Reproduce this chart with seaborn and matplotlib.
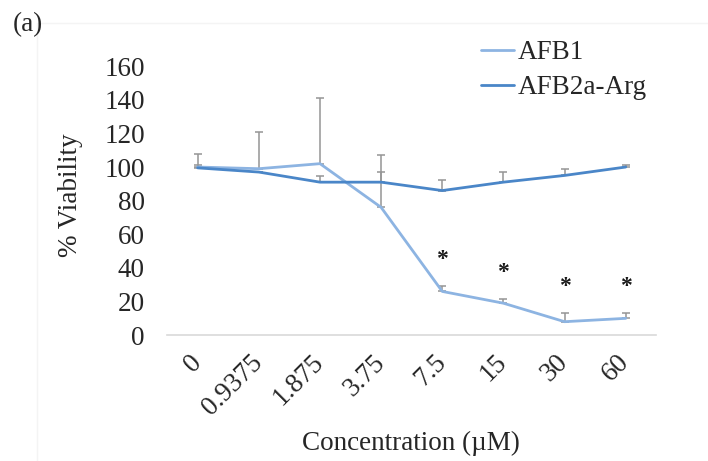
import numpy as np
import pandas as pd
import matplotlib
matplotlib.use("Agg")
import matplotlib.pyplot as plt
from matplotlib.patches import Rectangle
import seaborn as sns

# Concentrations (µM) and mean viability (%) with upper error (SD)
concentrations = ["0", "0.9375", "1.875", "3.75", "7.5", "15", "30", "60"]
afb1_mean = [100, 99, 102, 76, 26, 19, 8, 10]
afb1_err = [8, 22, 39, 31, 3, 2.5, 5, 3]
afb2a_mean = [99.5, 97, 91, 91, 86, 91, 95, 100]
afb2a_err = [1.5, 0, 3.5, 6, 6, 6, 4, 1]
# indices of concentrations marked as significant for AFB1
significant = [4, 5, 6, 7]

series_names = ["AFB1", "AFB2a-Arg"]
colors = {"AFB1": "#8DB4E2", "AFB2a-Arg": "#4A86C8"}

pos = np.arange(len(concentrations))
df = pd.DataFrame({
    "pos": np.concatenate([pos, pos]),
    "viability": afb1_mean + afb2a_mean,
    "series": ["AFB1"] * len(pos) + ["AFB2a-Arg"] * len(pos),
})

sns.set_theme(style="white")
plt.rcParams["font.family"] = ["Liberation Serif", "DejaVu Serif"]

FS = 19.5
fig = plt.figure(figsize=(7.08, 4.61), dpi=100)
ax = fig.add_axes([0.236, 0.273, 0.691, 0.5835])

# faint outer chart-area border
fig.patches.append(Rectangle((37 / 708, -0.1), 1.2, 1 - 23 / 461 + 0.1,
                             transform=fig.transFigure, fill=False,
                             edgecolor="#f4f4f4", linewidth=1, zorder=0))

# upper-only error bars, drawn under the lines
for mean, err in [(afb1_mean, afb1_err), (afb2a_mean, afb2a_err)]:
    ax.errorbar(pos, mean, yerr=[np.zeros(len(err)), err], fmt="none",
                ecolor="#959595", elinewidth=1.1, capsize=3, capthick=1.1,
                zorder=1.5)

sns.lineplot(data=df, x="pos", y="viability", hue="series",
             hue_order=series_names, palette=colors, linewidth=2.0,
             ax=ax, zorder=2)

# significance asterisks above the AFB1 error bars
for i in significant:
    ax.text(pos[i], afb1_mean[i] + afb1_err[i] + 16, "*", ha="center",
            va="center", fontsize=17, fontweight="bold", color="#1a1a1a")

ax.set_xlim(-0.5, len(pos) - 0.5)
ax.set_ylim(0, 160)
ax.set_yticks(np.arange(0, 161, 20))
ax.set_xticks(pos)
ax.set_xticklabels(concentrations, rotation=45, ha="right", va="center",
                   rotation_mode="anchor", fontsize=FS)
ax.tick_params(axis="y", labelsize=FS, pad=16, length=0)
ax.tick_params(axis="x", pad=17, length=0)

for side in ["top", "right", "left"]:
    ax.spines[side].set_visible(False)
ax.spines["bottom"].set_color("#d9d9d9")
ax.spines["bottom"].set_linewidth(1.2)

ax.set_xlabel("Concentration (µM)", fontsize=FS, va="center")
ax.xaxis.set_label_coords(0.499, -0.401)
ax.set_ylabel("% Viability", fontsize=FS, va="center")
ax.yaxis.set_label_coords(-0.198, 0.52)

leg = ax.legend(loc="upper left", bbox_to_anchor=(481 / 708, 1 - 40 / 461),
                bbox_transform=fig.transFigure, frameon=False, fontsize=FS,
                handlelength=1.2, handletextpad=0.15, labelspacing=0.38,
                borderaxespad=0, borderpad=0)

fig.text(13 / 708, 1 - 25 / 461, "(a)", fontsize=FS, va="center", ha="left")

fig.savefig("out.png", dpi=100)
